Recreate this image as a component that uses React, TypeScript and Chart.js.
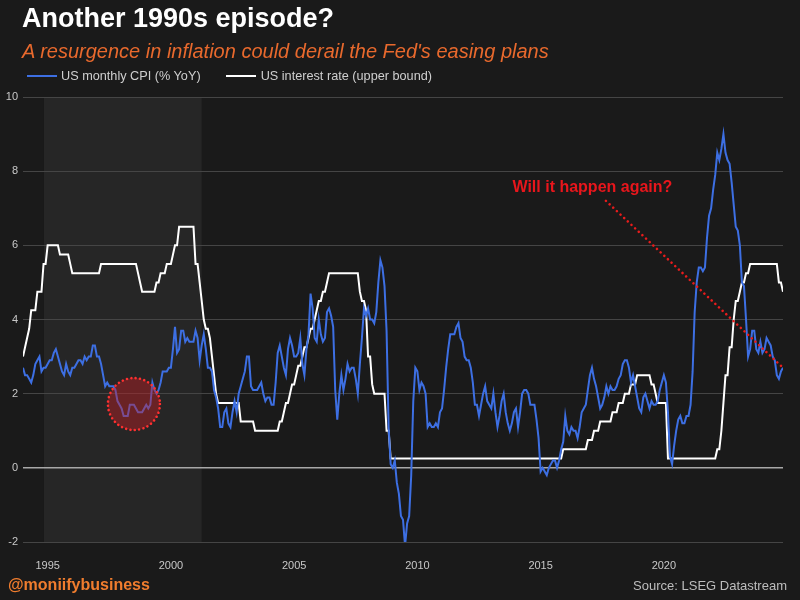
import React, { useEffect, useRef } from "react";
import { Chart, registerables } from "chart.js";

Chart.register(...registerables);

const FONT = '"Liberation Sans", Arial, Helvetica, sans-serif';

// Monthly observations, starting January 1994
const startYear = 1994;

const cpiYoY: number[] = [
  // 1994
  2.7, 2.5, 2.5, 2.4, 2.3, 2.5, 2.8, 2.9, 3.0, 2.6, 2.7, 2.7,
  // 1995
  2.8, 2.9, 2.9, 3.1, 3.2, 3.0, 2.8, 2.6, 2.5, 2.8, 2.6, 2.5,
  // 1996
  2.7, 2.7, 2.8, 2.9, 2.9, 2.8, 3.0, 2.9, 3.0, 3.0, 3.3, 3.3,
  // 1997
  3.0, 3.0, 2.8, 2.5, 2.2, 2.3, 2.2, 2.2, 2.2, 2.1, 1.8, 1.7,
  // 1998
  1.6, 1.4, 1.4, 1.4, 1.7, 1.7, 1.7, 1.6, 1.5, 1.5, 1.5, 1.6,
  // 1999
  1.7, 1.6, 1.7, 2.3, 2.1, 2.0, 2.1, 2.3, 2.6, 2.6, 2.6, 2.7,
  // 2000
  2.7, 3.2, 3.8, 3.1, 3.2, 3.7, 3.7, 3.4, 3.5, 3.4, 3.4, 3.4,
  // 2001
  3.7, 3.5, 2.9, 3.3, 3.6, 3.2, 2.7, 2.7, 2.6, 2.1, 1.9, 1.6,
  // 2002
  1.1, 1.1, 1.5, 1.6, 1.2, 1.1, 1.5, 1.8, 1.5, 2.0, 2.2, 2.4,
  // 2003
  2.6, 3.0, 3.0, 2.2, 2.1, 2.1, 2.1, 2.2, 2.3, 2.0, 1.8, 1.9,
  // 2004
  1.9, 1.7, 1.7, 2.3, 3.1, 3.3, 3.0, 2.7, 2.5, 3.2, 3.5, 3.3,
  // 2005
  3.0, 3.0, 3.1, 3.5, 2.8, 2.5, 3.2, 3.6, 4.7, 4.3, 3.5, 3.4,
  // 2006
  4.0, 3.6, 3.4, 3.5, 4.2, 4.3, 4.1, 3.8, 2.1, 1.3, 2.0, 2.5,
  // 2007
  2.1, 2.4, 2.8, 2.6, 2.7, 2.7, 2.4, 2.0, 2.8, 3.5, 4.3, 4.1,
  // 2008
  4.3, 4.0, 4.0, 3.9, 4.2, 5.0, 5.6, 5.4, 4.9, 3.7, 1.1, 0.1,
  // 2009
  0.0, 0.2, -0.4, -0.7, -1.3, -1.4, -2.1, -1.5, -1.3, -0.2, 1.8, 2.7,
  // 2010
  2.6, 2.1, 2.3, 2.2, 2.0, 1.1, 1.2, 1.1, 1.1, 1.2, 1.1, 1.5,
  // 2011
  1.6, 2.1, 2.7, 3.2, 3.6, 3.6, 3.6, 3.8, 3.9, 3.5, 3.4, 3.0,
  // 2012
  2.9, 2.9, 2.7, 2.3, 1.7, 1.7, 1.4, 1.7, 2.0, 2.2, 1.8, 1.7,
  // 2013
  1.6, 2.0, 1.5, 1.1, 1.4, 1.8, 2.0, 1.5, 1.2, 1.0, 1.2, 1.5,
  // 2014
  1.6, 1.1, 1.5, 2.0, 2.1, 2.1, 2.0, 1.7, 1.7, 1.7, 1.3, 0.8,
  // 2015
  -0.1, 0.0, -0.1, -0.2, 0.0, 0.1, 0.2, 0.2, 0.0, 0.2, 0.5, 0.7,
  // 2016
  1.4, 1.0, 0.9, 1.1, 1.0, 1.0, 0.8, 1.1, 1.5, 1.6, 1.7, 2.1,
  // 2017
  2.5, 2.7, 2.4, 2.2, 1.9, 1.6, 1.7, 1.9, 2.2, 2.0, 2.2, 2.1,
  // 2018
  2.1, 2.2, 2.4, 2.5, 2.8, 2.9, 2.9, 2.7, 2.3, 2.5, 2.2, 1.9,
  // 2019
  1.6, 1.5, 1.9, 2.0, 1.8, 1.6, 1.8, 1.7, 1.7, 1.8, 2.1, 2.3,
  // 2020
  2.5, 2.3, 1.5, 0.3, 0.1, 0.6, 1.0, 1.3, 1.4, 1.2, 1.2, 1.4,
  // 2021
  1.4, 1.7, 2.6, 4.2, 5.0, 5.4, 5.4, 5.3, 5.4, 6.2, 6.8, 7.0,
  // 2022
  7.5, 7.9, 8.5, 8.3, 8.6, 9.0, 8.5, 8.3, 8.2, 7.7, 7.1, 6.5,
  // 2023
  6.4, 6.0, 5.0, 4.9, 4.0, 3.0, 3.2, 3.7, 3.7, 3.2, 3.1, 3.4,
  // 2024 (to November)
  3.1, 3.2, 3.5, 3.4, 3.3, 3.0, 2.9, 2.5, 2.4, 2.6, 2.7,
];

const fedUpperBound: number[] = [
  // 1994
  3.0, 3.25, 3.5, 3.75, 4.25, 4.25, 4.25, 4.75, 4.75, 4.75, 5.5, 5.5,
  // 1995
  6.0, 6.0, 6.0, 6.0, 6.0, 6.0, 5.75, 5.75, 5.75, 5.75, 5.75, 5.5,
  // 1996
  5.25, 5.25, 5.25, 5.25, 5.25, 5.25, 5.25, 5.25, 5.25, 5.25, 5.25, 5.25,
  // 1997
  5.25, 5.25, 5.5, 5.5, 5.5, 5.5, 5.5, 5.5, 5.5, 5.5, 5.5, 5.5,
  // 1998
  5.5, 5.5, 5.5, 5.5, 5.5, 5.5, 5.5, 5.5, 5.25, 5.0, 4.75, 4.75,
  // 1999
  4.75, 4.75, 4.75, 4.75, 4.75, 5.0, 5.0, 5.25, 5.25, 5.25, 5.5, 5.5,
  // 2000
  5.5, 5.75, 6.0, 6.0, 6.5, 6.5, 6.5, 6.5, 6.5, 6.5, 6.5, 6.5,
  // 2001
  5.5, 5.5, 5.0, 4.5, 4.0, 3.75, 3.75, 3.5, 3.0, 2.5, 2.0, 1.75,
  // 2002
  1.75, 1.75, 1.75, 1.75, 1.75, 1.75, 1.75, 1.75, 1.75, 1.75, 1.25, 1.25,
  // 2003
  1.25, 1.25, 1.25, 1.25, 1.25, 1.0, 1.0, 1.0, 1.0, 1.0, 1.0, 1.0,
  // 2004
  1.0, 1.0, 1.0, 1.0, 1.0, 1.25, 1.25, 1.5, 1.75, 1.75, 2.0, 2.25,
  // 2005
  2.25, 2.5, 2.75, 2.75, 3.0, 3.25, 3.25, 3.5, 3.75, 3.75, 4.0, 4.25,
  // 2006
  4.5, 4.5, 4.75, 4.75, 5.0, 5.25, 5.25, 5.25, 5.25, 5.25, 5.25, 5.25,
  // 2007
  5.25, 5.25, 5.25, 5.25, 5.25, 5.25, 5.25, 5.25, 4.75, 4.5, 4.5, 4.25,
  // 2008
  3.0, 3.0, 2.25, 2.0, 2.0, 2.0, 2.0, 2.0, 2.0, 1.0, 1.0, 0.25,
  // 2009
  0.25, 0.25, 0.25, 0.25, 0.25, 0.25, 0.25, 0.25, 0.25, 0.25, 0.25, 0.25,
  // 2010
  0.25, 0.25, 0.25, 0.25, 0.25, 0.25, 0.25, 0.25, 0.25, 0.25, 0.25, 0.25,
  // 2011
  0.25, 0.25, 0.25, 0.25, 0.25, 0.25, 0.25, 0.25, 0.25, 0.25, 0.25, 0.25,
  // 2012
  0.25, 0.25, 0.25, 0.25, 0.25, 0.25, 0.25, 0.25, 0.25, 0.25, 0.25, 0.25,
  // 2013
  0.25, 0.25, 0.25, 0.25, 0.25, 0.25, 0.25, 0.25, 0.25, 0.25, 0.25, 0.25,
  // 2014
  0.25, 0.25, 0.25, 0.25, 0.25, 0.25, 0.25, 0.25, 0.25, 0.25, 0.25, 0.25,
  // 2015
  0.25, 0.25, 0.25, 0.25, 0.25, 0.25, 0.25, 0.25, 0.25, 0.25, 0.25, 0.5,
  // 2016
  0.5, 0.5, 0.5, 0.5, 0.5, 0.5, 0.5, 0.5, 0.5, 0.5, 0.5, 0.75,
  // 2017
  0.75, 0.75, 1.0, 1.0, 1.0, 1.25, 1.25, 1.25, 1.25, 1.25, 1.25, 1.5,
  // 2018
  1.5, 1.5, 1.75, 1.75, 1.75, 2.0, 2.0, 2.0, 2.25, 2.25, 2.25, 2.5,
  // 2019
  2.5, 2.5, 2.5, 2.5, 2.5, 2.5, 2.25, 2.25, 2.0, 1.75, 1.75, 1.75,
  // 2020
  1.75, 1.75, 0.25, 0.25, 0.25, 0.25, 0.25, 0.25, 0.25, 0.25, 0.25, 0.25,
  // 2021
  0.25, 0.25, 0.25, 0.25, 0.25, 0.25, 0.25, 0.25, 0.25, 0.25, 0.25, 0.25,
  // 2022
  0.25, 0.25, 0.5, 0.5, 1.0, 1.75, 2.5, 2.5, 3.25, 3.25, 4.0, 4.5,
  // 2023
  4.5, 4.75, 5.0, 5.0, 5.25, 5.25, 5.5, 5.5, 5.5, 5.5, 5.5, 5.5,
  // 2024 (to November)
  5.5, 5.5, 5.5, 5.5, 5.5, 5.5, 5.5, 5.5, 5.0, 5.0, 4.75,
];

const xTickYears = [1995, 2000, 2005, 2010, 2015, 2020];
const yTickValues = [-2, 0, 2, 4, 6, 8, 10];

const titleText = "Another 1990s episode?";
const subtitleText = "A resurgence in inflation could derail the Fed's easing plans";
const cpiLabel = "US monthly CPI (% YoY)";
const rateLabel = "US interest rate (upper bound)";
const handleText = "@moniifybusiness";
const sourceText = "Source: LSEG Datastream";

// Annotations (data coordinates)
const shadedPeriod = [1994.85, 2001.25];
const circledPoint = [1998.5, 1.72];
const calloutText = "Will it happen again?";
const calloutAnchor = [2017.1, 7.55];
const calloutLineStart = [2017.65, 7.2];

const monthX = (i: number) => startYear + i / 12;

const CPI_COLOR = "#3d6fe3";
const RATE_COLOR = "#ffffff";
const BG = "#1a1a1a";

const overlayPlugin = {
  id: "overlay",
  beforeDraw(chart: any) {
    const { ctx, chartArea, scales } = chart;
    const xs = scales.x;
    const x0 = xs.getPixelForValue(shadedPeriod[0]);
    const x1 = xs.getPixelForValue(shadedPeriod[1]);
    ctx.save();
    ctx.fillStyle = "#262626";
    ctx.fillRect(x0, chartArea.top, x1 - x0, chartArea.bottom - chartArea.top);
    ctx.restore();
  },
  afterDatasetsDraw(chart: any) {
    const { ctx, scales } = chart;
    const xs = scales.x;
    const ys = scales.y;
    ctx.save();
    // circled episode
    const cx = xs.getPixelForValue(circledPoint[0]);
    const cy = ys.getPixelForValue(circledPoint[1]);
    ctx.beginPath();
    ctx.arc(cx, cy, 26, 0, Math.PI * 2);
    ctx.fillStyle = "rgba(200, 28, 36, 0.42)";
    ctx.fill();
    ctx.setLineDash([0.01, 4.4]);
    ctx.lineCap = "round";
    ctx.lineWidth = 2.6;
    ctx.strokeStyle = "#ff3030";
    ctx.stroke();
    // dotted pointer to the latest CPI reading
    const last = cpiYoY.length - 1;
    const ex = xs.getPixelForValue(monthX(last));
    const ey = ys.getPixelForValue(cpiYoY[last]);
    const sx = xs.getPixelForValue(calloutLineStart[0]);
    const sy = ys.getPixelForValue(calloutLineStart[1]);
    ctx.beginPath();
    ctx.moveTo(sx, sy);
    ctx.lineTo(ex, ey);
    ctx.setLineDash([0.01, 5]);
    ctx.lineWidth = 2.6;
    ctx.strokeStyle = "#e81c1c";
    ctx.stroke();
    // callout text
    ctx.setLineDash([]);
    ctx.font = `bold 16px ${FONT}`;
    ctx.fillStyle = "#e8161c";
    ctx.textAlign = "center";
    ctx.textBaseline = "middle";
    ctx.fillText(
      calloutText,
      xs.getPixelForValue(calloutAnchor[0]),
      ys.getPixelForValue(calloutAnchor[1])
    );
    ctx.restore();
  },
};

export default function App() {
  const canvasRef = useRef<HTMLCanvasElement>(null);

  useEffect(() => {
    document.body.style.margin = "0";
    document.body.style.background = BG;
    const canvas = canvasRef.current;
    if (!canvas) return;
    const chart = new Chart(canvas, {
      type: "line",
      data: {
        datasets: [
          {
            label: cpiLabel,
            data: cpiYoY.map((v, i) => ({ x: monthX(i), y: v })),
            borderColor: CPI_COLOR,
            backgroundColor: CPI_COLOR,
            borderWidth: 2,
            pointRadius: 0,
            tension: 0,
            fill: false,
          },
          {
            label: rateLabel,
            data: fedUpperBound.map((v, i) => ({ x: monthX(i), y: v })),
            borderColor: RATE_COLOR,
            backgroundColor: RATE_COLOR,
            borderWidth: 2,
            pointRadius: 0,
            tension: 0,
            fill: false,
          },
        ],
      },
      options: {
        animation: false,
        responsive: false,
        maintainAspectRatio: false,
        layout: { padding: { left: 0, right: 17, top: 97, bottom: 0 } },
        plugins: {
          legend: { display: false },
          tooltip: { enabled: false },
        },
        scales: {
          x: {
            type: "linear",
            min: startYear,
            max: monthX(cpiYoY.length - 1),
            grid: { display: false },
            border: { display: false },
            afterFit: (s: any) => {
              s.height = 58;
            },
            afterBuildTicks: (s: any) => {
              s.ticks = xTickYears.map((v) => ({ value: v }));
            },
            ticks: {
              color: "#c8c8c8",
              font: { family: FONT, size: 11 },
              padding: 9,
              maxRotation: 0,
              autoSkip: false,
              callback: (v: any) => String(v),
            },
          },
          y: {
            min: -2,
            max: 10,
            border: { display: false },
            afterFit: (s: any) => {
              s.width = 23;
            },
            afterBuildTicks: (s: any) => {
              s.ticks = yTickValues.map((v) => ({ value: v }));
            },
            grid: {
              drawTicks: false,
              color: (c: any) => (c.tick && c.tick.value === 0 ? "#a8a8a8" : "#454545"),
              lineWidth: (c: any) => (c.tick && c.tick.value === 0 ? 1.6 : 1),
            },
            ticks: {
              color: "#c8c8c8",
              font: { family: FONT, size: 11 },
              padding: 5,
            },
          },
        },
      },
      plugins: [overlayPlugin],
    } as any);
    return () => chart.destroy();
  }, []);

  return (
    <div
      style={{
        position: "relative",
        width: 800,
        height: 600,
        background: BG,
        overflow: "hidden",
        fontFamily: FONT,
      }}
    >
      <canvas
        ref={canvasRef}
        width={800}
        height={600}
        style={{ position: "absolute", left: 0, top: 0, display: "block" }}
      />
      <div
        style={{
          position: "absolute",
          left: 22,
          top: 3,
          fontSize: 27,
          lineHeight: "31px",
          fontWeight: "bold",
          color: "#ffffff",
          whiteSpace: "nowrap",
        }}
      >
        {titleText}
      </div>
      <div
        style={{
          position: "absolute",
          left: 22,
          top: 39,
          fontSize: 20,
          lineHeight: "24px",
          fontStyle: "italic",
          color: "#e8692d",
          whiteSpace: "nowrap",
        }}
      >
        {subtitleText}
      </div>
      <div
        style={{
          position: "absolute",
          left: 27,
          top: 68,
          height: 16,
          display: "flex",
          alignItems: "center",
          fontSize: 12.7,
          lineHeight: "16px",
          color: "#cfcfcf",
          whiteSpace: "nowrap",
        }}
      >
        <span style={{ display: "inline-block", width: 30, height: 2, background: CPI_COLOR, marginRight: 4 }} />
        <span>{cpiLabel}</span>
        <span
          style={{ display: "inline-block", width: 30, height: 2, background: RATE_COLOR, marginLeft: 25, marginRight: 5 }}
        />
        <span>{rateLabel}</span>
      </div>
      <div
        style={{
          position: "absolute",
          left: 8,
          top: 575,
          fontSize: 16,
          lineHeight: "20px",
          fontWeight: "bold",
          color: "#f07d2e",
          whiteSpace: "nowrap",
        }}
      >
        {handleText}
      </div>
      <div
        style={{
          position: "absolute",
          right: 13,
          top: 578,
          fontSize: 13,
          lineHeight: "16px",
          color: "#bdbdbd",
          whiteSpace: "nowrap",
        }}
      >
        {sourceText}
      </div>
    </div>
  );
}
